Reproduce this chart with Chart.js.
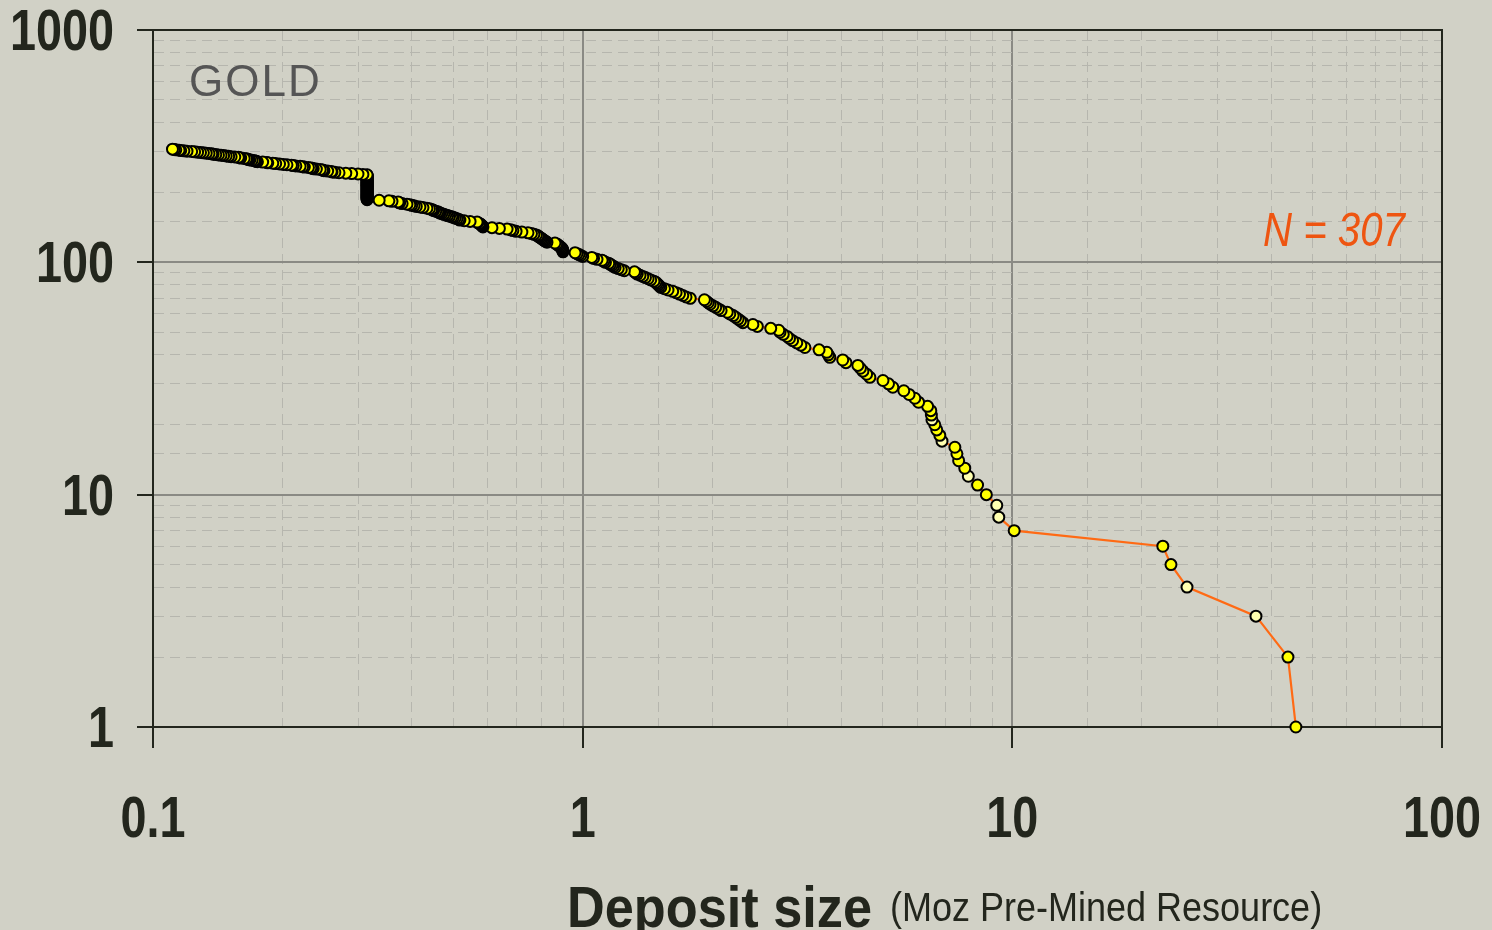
<!DOCTYPE html>
<html>
<head>
<meta charset="utf-8">
<title>Gold deposit size vs rank</title>
<script src="https://cdn.jsdelivr.net/npm/chart.js"></script>
<style>
  html, body { margin: 0; padding: 0; background: #d1d1c6; }
  #wrap { position: relative; width: 1492px; height: 930px; overflow: hidden; }
  #chart { position: absolute; left: 0; top: 0; }
  .note { position: absolute; white-space: nowrap; line-height: 1; transform-origin: 0 0; }
  #gold { left: 189px; top: 56px; font: 44px 'Liberation Sans', Arial, sans-serif; color: #555; letter-spacing: 2px; }
  #count { left: 1263px; top: 201px; font: italic 49px 'Liberation Sans', Arial, sans-serif; color: #ee5511; transform: scaleX(0.82); }
  #xtitle { left: 567px; top: 874px; font: bold 57px 'Liberation Sans', Arial, sans-serif; color: #23261d; transform: scaleX(0.917); }
  #xunit { left: 890px; top: 885px; font: 40px 'Liberation Sans', Arial, sans-serif; color: #23261d; transform: scaleX(0.9); }
</style>
</head>
<body>
<div id="wrap">
  <canvas id="chart" width="1492" height="930"></canvas>
  <div class="note" id="gold">GOLD</div>
  <div class="note" id="count">N = 307</div>
  <div class="note" id="xtitle">Deposit size</div>
  <div class="note" id="xunit">(Moz Pre-Mined Resource)</div>
</div>
<script>
// deposit sizes (Moz), largest first; rank = position in the list
const sizes = [
  45.7, 43.8, 36.9, 25.5, 23.4, 22.4, 10.1, 9.3, 9.2, 8.7,
  8.3, 7.9, 7.75, 7.5, 7.43, 7.35, 6.86, 6.78, 6.67, 6.6,
  6.5, 6.48, 6.46, 6.35, 6.05, 5.93, 5.75, 5.59, 5.27, 5.15,
  5.0, 4.66, 4.58, 4.49, 4.43, 4.37, 4.1, 4.03, 3.76, 3.73,
  3.70, 3.55, 3.29, 3.22, 3.15, 3.08, 3.03, 2.99, 2.93, 2.88,
  2.86, 2.74, 2.55, 2.49, 2.36, 2.33, 2.3, 2.27, 2.24, 2.2,
  2.17, 2.1, 2.07, 2.04, 2.01, 1.98, 1.96, 1.94, 1.92, 1.78,
  1.74, 1.71, 1.68, 1.65, 1.62, 1.58, 1.55, 1.52, 1.51, 1.50,
  1.49, 1.48, 1.465, 1.44, 1.42, 1.40, 1.38, 1.36, 1.34, 1.33,
  1.32, 1.25, 1.23, 1.21, 1.19, 1.18, 1.17, 1.16, 1.15, 1.13,
  1.12, 1.11, 1.08, 1.06, 1.05, 1.0, 0.99, 0.98, 0.97, 0.96,
  0.90, 0.899, 0.898, 0.897, 0.895, 0.89, 0.885, 0.88, 0.875, 0.87,
  0.862, 0.826, 0.82, 0.815, 0.81, 0.805, 0.80, 0.795, 0.79, 0.787,
  0.78, 0.77, 0.76, 0.746, 0.722, 0.70, 0.688, 0.68, 0.667, 0.64,
  0.615, 0.586, 0.585, 0.583, 0.58, 0.578, 0.575, 0.57, 0.568, 0.547,
  0.53, 0.518, 0.515, 0.51, 0.505, 0.50, 0.496, 0.49, 0.485, 0.48,
  0.475, 0.47, 0.466, 0.463, 0.46, 0.455, 0.45, 0.448, 0.445, 0.44,
  0.434, 0.425, 0.418, 0.41, 0.405, 0.40, 0.396, 0.39, 0.38, 0.375,
  0.373, 0.372, 0.36, 0.354, 0.336, 0.315, 0.315, 0.315, 0.315, 0.315,
  0.315, 0.315, 0.315, 0.315, 0.315, 0.315, 0.315, 0.315, 0.315, 0.315,
  0.315, 0.315, 0.315, 0.315, 0.315, 0.315, 0.315, 0.315, 0.315, 0.315,
  0.315, 0.315, 0.315, 0.315, 0.315, 0.315, 0.315, 0.315, 0.315, 0.315,
  0.315, 0.315, 0.315, 0.315, 0.315, 0.315, 0.315, 0.315, 0.315, 0.315,
  0.315, 0.315, 0.315, 0.315, 0.315, 0.315, 0.315, 0.315, 0.308, 0.30,
  0.29, 0.281, 0.271, 0.265, 0.261, 0.26, 0.255, 0.25, 0.249, 0.248,
  0.245, 0.24, 0.236, 0.235, 0.233, 0.23, 0.225, 0.223, 0.22, 0.215,
  0.212, 0.21, 0.205, 0.201, 0.197, 0.193, 0.19, 0.185, 0.184, 0.18,
  0.175, 0.174, 0.173, 0.172, 0.170, 0.168, 0.167, 0.166, 0.165, 0.163,
  0.16, 0.159, 0.158, 0.155, 0.152, 0.15, 0.148, 0.146, 0.144, 0.142,
  0.14, 0.138, 0.137, 0.135, 0.133, 0.131, 0.129, 0.127, 0.125, 0.123,
  0.12, 0.118, 0.116, 0.115, 0.113, 0.112, 0.111
];
const ranks = sizes.map((s, i) => i + 1);
// deposits drawn with a pale fill
const paleRanks = [3, 4, 8, 9, 12, 17, 21];

const xRange = [0.1, 100];
const yRange = [1, 1000];

const ink = '#23261d';
const isDecade = v => Math.abs(Math.log10(v) - Math.round(Math.log10(v))) < 1e-6;
const decadeLabel = v => String(+v.toPrecision(3));

function gridFor(tickLen) {
  return {
    color: c => c.tick && isDecade(c.tick.value) ? '#8a8a84' : '#b6b6ae',
    lineWidth: c => c.tick && isDecade(c.tick.value) ? 2 : 1,
    tickColor: c => c.tick && isDecade(c.tick.value) ? ink : 'rgba(0,0,0,0)',
    tickLength: tickLen,
    tickWidth: 2
  };
}
const border = {
  display: true, color: ink, width: 2,
  dash: c => c.tick && !isDecade(c.tick.value) ? [10, 6] : []
};

// dark frame on top and right like the original
const framePlugin = {
  id: 'frame',
  beforeDatasetsDraw(chart) {
    const { ctx, chartArea: a } = chart;
    ctx.save();
    ctx.strokeStyle = ink;
    ctx.lineWidth = 2;
    ctx.strokeRect(a.left, a.top, a.right - a.left, a.bottom - a.top);
    ctx.restore();
  }
};

// decade labels in a narrow bold face (no condensed font installed, so squeeze)
const narrowLabels = {
  id: 'narrowLabels',
  afterDraw(chart) {
    const { ctx } = chart;
    const { x, y } = chart.scales;
    ctx.save();
    ctx.fillStyle = ink;
    ctx.font = "bold 57px 'Liberation Sans', Arial, sans-serif";
    ctx.textBaseline = 'alphabetic';
    y.ticks.filter(t => isDecade(t.value)).forEach(t => {
      ctx.save();
      ctx.translate(y.right - 39, y.getPixelForValue(t.value) + 20);
      ctx.scale(0.82, 1);
      ctx.textAlign = 'right';
      ctx.fillText(decadeLabel(t.value), 0, 0);
      ctx.restore();
    });
    x.ticks.filter(t => isDecade(t.value)).forEach(t => {
      ctx.save();
      ctx.translate(x.getPixelForValue(t.value), x.top + 110);
      ctx.scale(0.82, 1);
      ctx.textAlign = 'center';
      ctx.fillText(decadeLabel(t.value), 0, 0);
      ctx.restore();
    });
    ctx.restore();
  }
};

new Chart(document.getElementById('chart'), {
  type: 'scatter',
  data: {
    datasets: [{
      data: sizes.map((s, i) => ({ x: s, y: ranks[i] })),
      showLine: true,
      borderColor: '#ff6a14',
      borderWidth: 2.2,
      pointRadius: 5.5,
      pointBorderWidth: 2,
      pointBorderColor: '#000',
      pointBackgroundColor: c => paleRanks.includes(ranks[c.dataIndex]) ? '#ffffb0' : '#ffff00',
      clip: false
    }]
  },
  options: {
    responsive: false,
    animation: false,
    events: [],
    layout: { padding: { left: 0, top: 30, right: 50, bottom: 0 } },
    plugins: { legend: { display: false }, tooltip: { enabled: false } },
    scales: {
      x: {
        type: 'logarithmic',
        min: xRange[0], max: xRange[1],
        grid: gridFor(21),
        border: border,
        afterFit: s => { s.height = 203; },
        ticks: { display: false, autoSkip: false }
      },
      y: {
        type: 'logarithmic',
        min: yRange[0], max: yRange[1],
        grid: gridFor(16),
        border: border,
        afterFit: s => { s.width = 153; },
        ticks: { display: false, autoSkip: false }
      }
    }
  },
  plugins: [framePlugin, narrowLabels]
});
</script>
</body>
</html>
